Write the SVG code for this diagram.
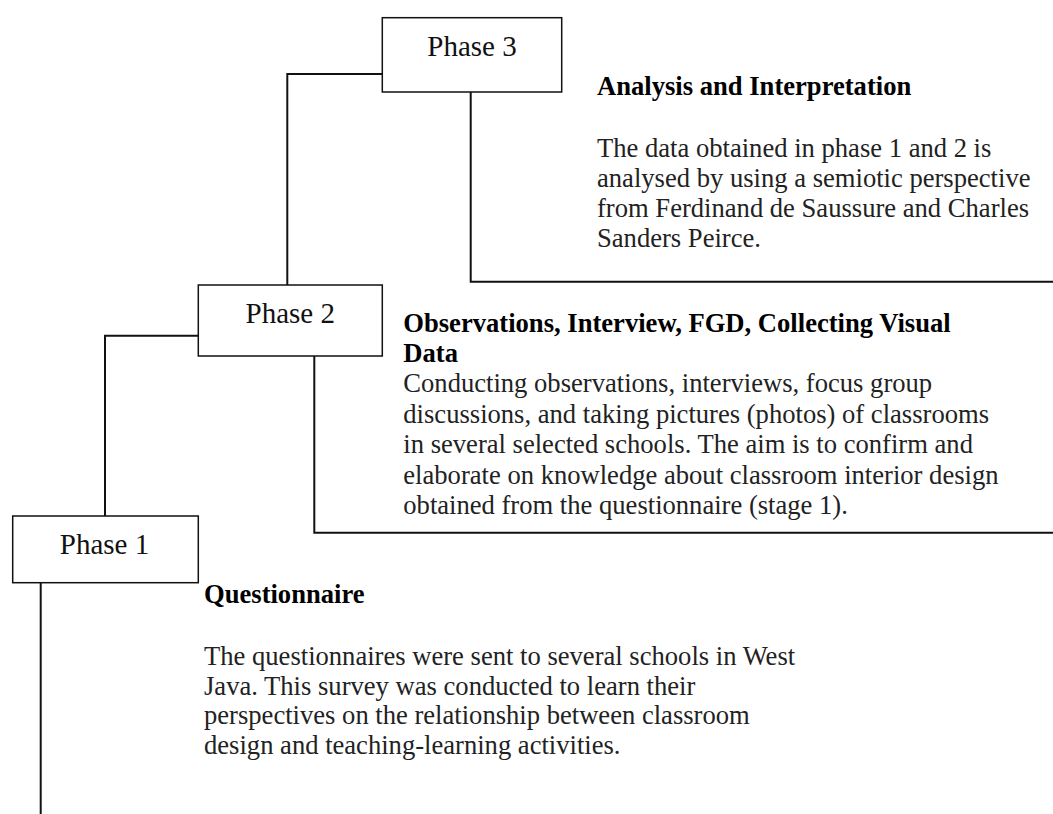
<svg xmlns="http://www.w3.org/2000/svg" width="1053" height="814" viewBox="0 0 1053 814">
<style>
.box{fill:#fff;stroke:#111;stroke-width:1.5}
.lbl{font-family:"Liberation Serif","Times New Roman",serif;font-size:29px;fill:#111;text-anchor:middle}
.hd{font-family:"Liberation Serif","Times New Roman",serif;font-size:26.6px;font-weight:bold;fill:#000}
.bd{font-family:"Liberation Serif","Times New Roman",serif;font-size:26.6px;fill:#222}
.con{fill:none;stroke:#111;stroke-width:2}
</style>
<rect width="1053" height="814" fill="#fff"/>
<g id="connectors">
<path class="con" d="M382,74 H287.3 V285"/>
<path class="con" d="M470.7,92 V281.7 H1053"/>
<path class="con" d="M198.3,335.7 H105 V516"/>
<path class="con" d="M314.3,356 V532.7 H1053"/>
<path class="con" d="M40.7,583 V814"/>
</g>
<g id="phase3">
<rect class="box" x="382.3" y="17.7" width="179.4" height="74.3"/>
<text class="lbl" x="472" y="56">Phase 3</text>
</g>
<g id="phase2">
<rect class="box" x="198.3" y="285" width="184" height="71"/>
<text class="lbl" x="290.3" y="323.3">Phase 2</text>
</g>
<g id="phase1">
<rect class="box" x="12.7" y="516" width="185.6" height="66.7"/>
<text class="lbl" x="104.5" y="554">Phase 1</text>
</g>
<g id="text3">
<text class="hd" x="597" y="95">Analysis and Interpretation</text>
<text class="bd" x="597" y="157">The data obtained in phase 1 and 2 is</text>
<text class="bd" x="597" y="187">analysed by using a semiotic perspective</text>
<text class="bd" x="597" y="217">from Ferdinand de Saussure and Charles</text>
<text class="bd" x="597" y="247">Sanders Peirce.</text>
</g>
<g id="text2">
<text class="hd" x="403.3" y="332">Observations, Interview, FGD, Collecting Visual</text>
<text class="hd" x="403.3" y="362">Data</text>
<text class="bd" x="403.3" y="392">Conducting observations, interviews, focus group</text>
<text class="bd" x="403.3" y="422.5">discussions, and taking pictures (photos) of classrooms</text>
<text class="bd" x="403.3" y="453">in several selected schools. The aim is to confirm and</text>
<text class="bd" x="403.3" y="483.5">elaborate on knowledge about classroom interior design</text>
<text class="bd" x="403.3" y="514">obtained from the questionnaire (stage 1).</text>
</g>
<g id="text1">
<text class="hd" x="204" y="603">Questionnaire</text>
<text class="bd" x="204" y="665">The questionnaires were sent to several schools in West</text>
<text class="bd" x="204" y="694.5">Java. This survey was conducted to learn their</text>
<text class="bd" x="204" y="724">perspectives on the relationship between classroom</text>
<text class="bd" x="204" y="753.5">design and teaching-learning activities.</text>
</g>
</svg>
